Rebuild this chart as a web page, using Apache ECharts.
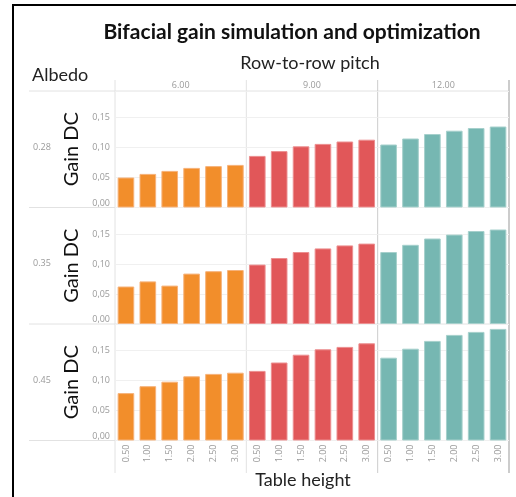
<!DOCTYPE html>
<html><head><meta charset="utf-8">
<script src="https://cdn.jsdelivr.net/npm/echarts@6/dist/echarts.min.js"></script>
<style>html,body{margin:0;padding:0;background:#fff}#c{width:516px;height:497px}</style>
</head><body><div id="c"></div>
<script>
// ---- data ----
const pitches = ['6.00', '9.00', '12.00'];
const heights = ['0.50', '1.00', '1.50', '2.00', '2.50', '3.00'];
const albedos = ['0.28', '0.35', '0.45'];
const yTicks = [0, 0.05, 0.10, 0.15];

const a028_p6  = [0.050, 0.056, 0.061, 0.066, 0.069, 0.071];
const a028_p9  = [0.086, 0.094, 0.102, 0.106, 0.110, 0.113];
const a028_p12 = [0.105, 0.115, 0.1225, 0.128, 0.1325, 0.135];
const a035_p6  = [0.0625, 0.071, 0.064, 0.084, 0.088, 0.090];
const a035_p9  = [0.099, 0.110, 0.120, 0.126, 0.131, 0.134];
const a035_p12 = [0.120, 0.132, 0.1425, 0.149, 0.155, 0.1575];
const a045_p6  = [0.079, 0.0905, 0.098, 0.107, 0.111, 0.113];
const a045_p9  = [0.116, 0.130, 0.143, 0.152, 0.156, 0.162];
const a045_p12 = [0.138, 0.153, 0.166, 0.176, 0.181, 0.186];

const values = [
  [a028_p6, a028_p9, a028_p12],
  [a035_p6, a035_p9, a035_p12],
  [a045_p6, a045_p9, a045_p12]
];

// ---- layout / style ----
const colors = ['#F28E2B', '#E15759', '#76B7B2'];
const borders = ['#F6B27A', '#EC8F90', '#A6D0CC'];
const X0 = 115, X1 = 509, Y0 = 91, ROWH = 116.5;
const COLW = (X1 - X0) / 3;
const YMAX = ROWH / 600;
const FONT = 'Lato';
const small = { color: '#9a9a9a', fontSize: 9, fontFamily: 'Open Sans' };

const grids = [], xAxes = [], yAxes = [], series = [];
for (let r = 0; r < 3; r++) {
  for (let c = 0; c < 3; c++) {
    const i = r * 3 + c;
    grids.push({ left: X0 + c * COLW, top: Y0 + r * ROWH, width: COLW, height: ROWH, containLabel: false });
    xAxes.push({
      type: 'category', gridIndex: i, data: heights, boundaryGap: true,
      axisLine: { show: false }, axisTick: { show: false },
      axisLabel: r === 2 ? Object.assign({ rotate: 90, margin: 4, interval: 0 }, small) : { show: false }
    });
    yAxes.push({
      type: 'value', gridIndex: i, min: 0, max: YMAX, interval: 0.05,
      axisLine: { show: false }, axisTick: { show: false },
      splitLine: { show: true, lineStyle: { color: '#f0f0f0', width: 1 } },
      axisLabel: c === 0 ? Object.assign({
        margin: 5, showMaxLabel: false, verticalAlignMinLabel: 'bottom',
        formatter: v => yTicks.some(t => Math.abs(t - v) < 1e-9) ? v.toFixed(2).replace('.', ',') : ''
      }, small) : { show: false },
      name: c === 0 ? 'Gain DC' : '', nameLocation: 'middle', nameRotate: 90, nameGap: 33,
      nameTextStyle: { fontFamily: FONT, fontSize: 20, color: '#111' }
    });
    series.push({
      type: 'bar', xAxisIndex: i, yAxisIndex: i, data: values[r][c],
      barWidth: '76%',
      itemStyle: { color: colors[c], borderColor: borders[c], borderWidth: 1 }
    });
  }
}

const lineC = '#e2e2e2';
const graphics = [
  { type: 'line', shape: { x1: 13, y1: 4, x2: 13, y2: 497 }, style: { stroke: '#000', lineWidth: 2 } },
  { type: 'line', shape: { x1: 12, y1: 5, x2: 516, y2: 5 }, style: { stroke: '#000', lineWidth: 2 } },
  { type: 'line', shape: { x1: 29, y1: Y0, x2: X1, y2: Y0 }, style: { stroke: lineC, lineWidth: 1 } }
];
for (let r = 1; r <= 3; r++) {
  const y = Y0 + r * ROWH;
  graphics.push({ type: 'line', shape: { x1: 29, y1: y, x2: X1, y2: y }, style: { stroke: lineC, lineWidth: 1 } });
}
for (let c = 0; c <= 3; c++) {
  const x = X0 + c * COLW;
  graphics.push({ type: 'line', shape: { x1: x, y1: 80, x2: x, y2: 473 },
    style: { stroke: c >= 2 ? '#cccccc' : lineC, lineWidth: c === 3 ? 2 : 1 } });
}
pitches.forEach((p, c) => graphics.push({ type: 'text', x: X0 + (c + 0.5) * COLW, y: 85,
  style: { text: p, textAlign: 'center', textVerticalAlign: 'middle', fill: '#9a9a9a', font: '9px "Open Sans"' } }));
albedos.forEach((a, r) => graphics.push({ type: 'text', x: 42, y: Y0 + (r + 0.5) * ROWH - 2,
  style: { text: a, textAlign: 'center', textVerticalAlign: 'middle', fill: '#9a9a9a', font: '9px "Open Sans"' } }));
graphics.push({ type: 'text', x: 292, y: 32, style: { text: 'Bifacial gain simulation and optimization', textAlign: 'center', textVerticalAlign: 'middle', fill: '#111', font: 'bold 21px Lato' } });
graphics.push({ type: 'text', x: 310, y: 63, style: { text: 'Row-to-row pitch', textAlign: 'center', textVerticalAlign: 'middle', fill: '#222', font: '18px Lato' } });
graphics.push({ type: 'text', x: 32, y: 75, style: { text: 'Albedo', textAlign: 'left', textVerticalAlign: 'middle', fill: '#222', font: '18px Lato' } });
graphics.push({ type: 'text', x: 303, y: 480, style: { text: 'Table height', textAlign: 'center', textVerticalAlign: 'middle', fill: '#222', font: '18px Lato' } });

const chart = echarts.init(document.getElementById('c'), null, { renderer: 'canvas' });
chart.setOption({
  animation: false,
  grid: grids, xAxis: xAxes, yAxis: yAxes, series: series,
  graphic: graphics
});
</script></body></html>
